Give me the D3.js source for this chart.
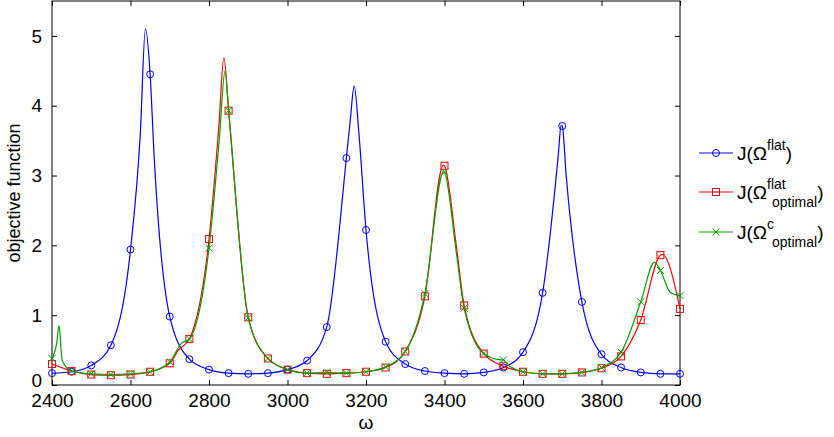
<!DOCTYPE html>
<html><head><meta charset="utf-8">
<script src="https://cdn.jsdelivr.net/npm/d3@7"></script>
<style>body{margin:0;background:#fff}text{font-family:"Liberation Sans",Arial,sans-serif}</style>
</head><body><svg width="834" height="437"></svg>
<script>
// sample frequencies (markers every 50)
const omegas = d3.range(2400, 4001, 50);
const flat = [0.17,0.19,0.28,0.57,1.94,4.45,0.98,0.37,0.22,0.17,0.16,0.17,0.22,0.35,0.83,3.25,2.22,0.62,0.30,0.20,0.17,0.16,0.18,0.25,0.47,1.32,3.71,1.19,0.44,0.25,0.18,0.16,0.16];
const flatOpt = [0.30,0.20,0.15,0.14,0.15,0.19,0.31,0.66,2.09,3.93,0.97,0.38,0.22,0.17,0.16,0.17,0.19,0.25,0.48,1.27,3.14,1.14,0.45,0.27,0.19,0.16,0.16,0.18,0.24,0.41,0.93,1.86,1.09];
const cOpt = [0.38,0.20,0.16,0.15,0.16,0.19,0.33,0.66,1.96,3.93,0.96,0.38,0.22,0.17,0.18,0.17,0.19,0.26,0.48,1.31,3.05,1.10,0.45,0.36,0.19,0.16,0.16,0.18,0.25,0.47,1.19,1.64,1.28];
// extra points (peaks, bumps)
const flatPeaks = [[2638,5.1],[2660,3.3],[2625,3.6],[3170,4.28],[3182,3.6],[3160,3.8],[3697,3.72],[3690,3.3],[3710,3.0]];
const flatOptPeaks = [[2838,4.69],[2825,3.7],[3397,3.15],[3955,1.87],[2722,0.5],[3430,2.0]];
const cOptPeaks = [[2412,0.6],[2418,0.85],[2426,0.35],[2730,0.6],[2841,4.5],[2826,3.5],[3398,3.06],[3430,1.9],[3935,1.76],[3975,1.33],[3545,0.36],[3560,0.3]];

const svg = d3.select("svg");
const x = d3.scaleLinear().domain([2400, 4000]).range([52, 680]);
const y = d3.scaleLinear().domain([0, 5.5]).range([385, 1]);

const g = svg.append("g");
g.append("rect").attr("x",52).attr("y",1).attr("width",628).attr("height",384).attr("fill","none").attr("stroke","#000");

const xt = d3.range(2400, 4001, 200), yt = d3.range(0, 6);
const ax = d3.axisBottom(x).tickValues(xt).tickSizeInner(-5).tickSizeOuter(0).tickPadding(9).tickFormat(d3.format("d"));
g.append("g").attr("transform","translate(0,385)").call(ax);
g.append("g").attr("transform","translate(0,1)").call(d3.axisTop(x).tickValues(xt).tickSizeInner(-5).tickSizeOuter(0).tickFormat(""));
const ay = d3.axisLeft(y).tickValues(yt).tickSizeInner(-5).tickSizeOuter(0).tickPadding(10).tickFormat(d3.format("d"));
const ayg = g.append("g").attr("transform","translate(52,0)").call(ay);
g.append("g").attr("transform","translate(680,0)").call(d3.axisRight(y).tickValues(yt).tickSizeInner(-5).tickSizeOuter(0).tickFormat(""));
g.selectAll(".domain").remove();
g.selectAll(".tick text").attr("font-size",19).attr("fill","#000").style("font-family","Liberation Sans");
ayg.selectAll(".tick text").filter(d => d === 0).attr("dy","0.1em");

const series = [
  {vals: flat, extra: flatPeaks, color: "#0000ff", m: "o"},
  {vals: flatOpt, extra: flatOptPeaks, color: "#ff0000", m: "s"},
  {vals: cOpt, extra: cOptPeaks, color: "#00a000", m: "x"}
];
const line = d3.line().x(d => x(d[0])).y(d => y(d[1])).curve(d3.curveMonotoneX);

function marker(sel, type, color) {
  if (type === "o") sel.append("circle").attr("r",3.5).attr("fill","none").attr("stroke",color);
  else if (type === "s") sel.append("rect").attr("x",-3.5).attr("y",-3.5).attr("width",7).attr("height",7).attr("fill","none").attr("stroke",color);
  else sel.append("path").attr("d","M-3.5,-3.5L3.5,3.5M-3.5,3.5L3.5,-3.5").attr("stroke",color);
}

series.forEach(s => {
  const pts = omegas.map((o,i) => [o, s.vals[i]]).concat(s.extra).sort((a,b) => a[0]-b[0]);
  g.append("path").datum(pts).attr("d", line).attr("fill","none").attr("stroke", s.color).attr("stroke-width",1.2);
  g.selectAll(null).data(omegas.map((o,i) => [o, s.vals[i]])).enter().append("g")
    .attr("transform", d => `translate(${x(d[0])},${y(d[1])})`)
    .each(function(){ marker(d3.select(this), s.m, s.color); });
});

svg.append("text").attr("x",366).attr("y",429).attr("text-anchor","middle").attr("font-size",19).text("ω");
svg.append("text").attr("transform","translate(20,193) rotate(-90)").attr("text-anchor","middle").attr("font-size",18).text("objective function");

// legend
const legend = [
  {sup: "flat", sub: "", color: "#0000ff", m: "o", y: 153},
  {sup: "flat", sub: "optimal", color: "#ff0000", m: "s", y: 192},
  {sup: "c", sub: "optimal", color: "#00a000", m: "x", y: 232}
];
legend.forEach(l => {
  const lg = svg.append("g").attr("transform", `translate(0,${l.y})`);
  lg.append("line").attr("x1",699).attr("x2",733).attr("stroke",l.color).attr("stroke-width",1.2);
  marker(lg.append("g").attr("transform","translate(716,0)"), l.m, l.color);
  const t = lg.append("text").attr("x",737).attr("y",7).attr("font-size",19);
  t.append("tspan").text("J(Ω");
  t.append("tspan").attr("dy",-10).attr("font-size",14).text(l.sup);
  if (l.sub) {
    t.append("tspan").attr("x", 772).attr("dy",18).attr("font-size",14).text(l.sub);
    t.append("tspan").attr("dy",-8).text(")");
  } else {
    t.append("tspan").attr("dy",10).text(")");
  }
});
</script></body></html>
